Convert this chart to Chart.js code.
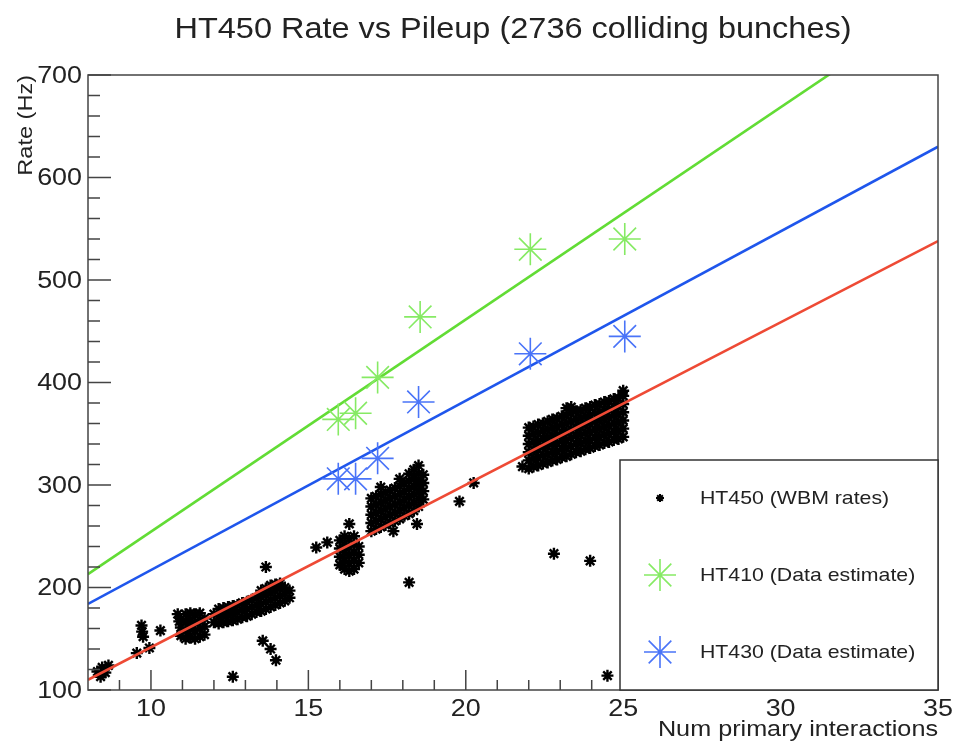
<!DOCTYPE html>
<html lang="en">
<head>
<meta charset="UTF-8">
<title>HT450 Rate vs Pileup</title>
<script src="https://cdn.jsdelivr.net/npm/chart.js@4.4.0/dist/chart.umd.min.js"></script>
<style>
    body { margin: 0; background: #fff; }
    #wrap { width: 956px; height: 745px; }
</style>
</head>
<body>
<div id="wrap"><canvas id="rateChart" width="956" height="745"></canvas></div>
<script>
    // ---- values: [pileup, rate Hz] ----
    const wbmStray = [
        [8.3,118],[8.45,122],[8.65,124],[8.4,113],[8.55,117],
        [9.55,136],[9.95,141],[9.7,163],[9.72,157],[9.75,152],[10.3,158],
        [10.85,174],[10.9,167],[12.6,113],[13.65,220],[13.55,148],[13.8,140],[13.97,129],
        [15.25,239],[15.6,244],[16.3,262],[17.7,255],[18.45,262],[18.2,205],
        [19.8,284],[20.25,302],[21.8,318],[22.8,233],[23.95,226],[24.5,114]
    ];
    const wbmFill11 = [
        [10.95,153],[10.95,161],[10.95,169],
        [11.1,150],[11.1,158],[11.1,166],[11.1,174],
        [11.25,151],[11.25,159],[11.25,167],[11.25,175],
        [11.4,150],[11.4,158],[11.4,166],[11.4,174],
        [11.55,152],[11.55,160],[11.55,168],[11.55,175],
        [11.7,154],[11.7,162],[11.7,170]
    ];
    const wbmFill13 = [
        [12.0,166],[12.0,174],
        [12.15,165],[12.15,172],[12.15,179],
        [12.3,166],[12.3,173],[12.3,180],
        [12.45,167],[12.45,174],[12.45,181],
        [12.6,168],[12.6,175],[12.6,182],
        [12.75,169],[12.75,176],[12.75,183],
        [12.9,171],[12.9,178],[12.9,185],
        [13.05,172],[13.05,179],[13.05,186],
        [13.2,174],[13.2,181],[13.2,188],
        [13.35,176],[13.35,183],[13.35,190],
        [13.5,177],[13.5,184],[13.5,191],[13.5,197],
        [13.65,179],[13.65,186],[13.65,193],[13.65,199],
        [13.8,181],[13.8,188],[13.8,195],[13.8,202],
        [13.95,183],[13.95,190],[13.95,197],[13.95,203],
        [14.1,185],[14.1,192],[14.1,199],[14.1,204],
        [14.25,187],[14.25,194],[14.25,200],
        [14.4,190],[14.4,197]
    ];
    const wbmFill16 = [
        [16.0,222],[16.0,230],[16.0,238],[16.0,246],
        [16.15,218],[16.15,226],[16.15,234],[16.15,242],[16.15,250],
        [16.3,216],[16.3,224],[16.3,232],[16.3,240],[16.3,248],
        [16.45,218],[16.45,226],[16.45,234],[16.45,242],[16.45,250],
        [16.6,224],[16.6,232],[16.6,240]
    ];
    const wbmFill18 = [
        [17.0,255],[17.0,263],[17.0,271],[17.0,279],[17.0,287],
        [17.15,257],[17.15,265],[17.15,273],[17.15,281],[17.15,289],
        [17.3,259],[17.3,267],[17.3,275],[17.3,283],[17.3,291],[17.3,298],
        [17.45,261],[17.45,269],[17.45,277],[17.45,285],[17.45,293],
        [17.6,263],[17.6,271],[17.6,279],[17.6,287],[17.6,295],
        [17.75,265],[17.75,273],[17.75,281],[17.75,289],[17.75,297],
        [17.9,267],[17.9,275],[17.9,283],[17.9,291],[17.9,299],[17.9,306],
        [18.05,270],[18.05,278],[18.05,286],[18.05,294],[18.05,302],
        [18.2,272],[18.2,280],[18.2,288],[18.2,296],[18.2,304],[18.2,311],
        [18.35,275],[18.35,283],[18.35,291],[18.35,299],[18.35,307],[18.35,315],
        [18.5,279],[18.5,287],[18.5,295],[18.5,303],[18.5,311],[18.5,319],
        [18.65,286],[18.65,294],[18.65,302],[18.65,310]
    ];
    const wbmFill23 = [
        [22.0,316],[22.0,324],[22.0,332],[22.0,340],[22.0,348],[22.0,356],
        [22.15,318],[22.15,326],[22.15,334],[22.15,342],[22.15,350],[22.15,357],
        [22.3,319],[22.3,327],[22.3,335],[22.3,343],[22.3,351],[22.3,359],
        [22.45,321],[22.45,329],[22.45,337],[22.45,345],[22.45,353],[22.45,360],
        [22.6,322],[22.6,330],[22.6,338],[22.6,346],[22.6,354],[22.6,362],
        [22.75,324],[22.75,332],[22.75,340],[22.75,348],[22.75,356],[22.75,364],
        [22.9,325],[22.9,333],[22.9,341],[22.9,349],[22.9,357],[22.9,365],
        [23.05,327],[23.05,335],[23.05,343],[23.05,351],[23.05,359],[23.05,367],
        [23.2,328],[23.2,336],[23.2,344],[23.2,352],[23.2,360],[23.2,368],[23.2,375],
        [23.35,330],[23.35,338],[23.35,346],[23.35,354],[23.35,362],[23.35,370],[23.35,376],
        [23.5,332],[23.5,340],[23.5,348],[23.5,356],[23.5,364],[23.5,372],
        [23.65,333],[23.65,341],[23.65,349],[23.65,357],[23.65,365],[23.65,373],
        [23.8,335],[23.8,343],[23.8,351],[23.8,359],[23.8,367],[23.8,375],
        [23.95,336],[23.95,344],[23.95,352],[23.95,360],[23.95,368],[23.95,376],
        [24.1,338],[24.1,346],[24.1,354],[24.1,362],[24.1,370],[24.1,378],
        [24.25,339],[24.25,347],[24.25,355],[24.25,363],[24.25,371],[24.25,379],
        [24.4,341],[24.4,349],[24.4,357],[24.4,365],[24.4,373],[24.4,381],
        [24.55,342],[24.55,350],[24.55,358],[24.55,366],[24.55,374],[24.55,382],
        [24.7,344],[24.7,352],[24.7,360],[24.7,368],[24.7,376],[24.7,384],
        [24.85,345],[24.85,353],[24.85,361],[24.85,369],[24.85,377],[24.85,385],
        [25.0,347],[25.0,355],[25.0,363],[25.0,371],[25.0,379],[25.0,387],[25.0,392]
    ];

    const ht410Pileup = [15.95, 16.5, 17.2, 18.55, 22.05, 25.05];
    const ht410Rate   = [364, 370, 405, 464, 530, 540];
    const ht430Pileup = [15.95, 16.5, 17.2, 18.5, 22.05, 25.05];
    const ht430Rate   = [306, 306, 326, 381, 428, 445];

    // straight-line fits, end points at the axis range
    const fitPileup = [8, 35];
    const fitHt410  = [213, 772];
    const fitHt430  = [184, 630];
    const fitHt450  = [110, 538];

    const xMajor = [10, 15, 20, 25, 30, 35];
    const xMinor = [9, 11, 12, 13, 14, 16, 17, 18, 19, 21, 22, 23, 24, 26, 27, 28, 29, 31, 32, 33, 34];
    const yMajor = [100, 200, 300, 400, 500, 600, 700];
    const yMinor = [120, 140, 160, 180, 220, 240, 260, 280, 320, 340, 360, 380,
                    420, 440, 460, 480, 520, 540, 560, 580, 620, 640, 660, 680];

    const GREEN_LINE = '#62dc35';
    const GREEN_MARK = '#86ea64';
    const BLUE_LINE = '#1f56ec';
    const BLUE_MARK = '#4a74f8';
    const RED_LINE = '#ee4a35';
    const FONT = '"Liberation Sans", Arial, sans-serif';

    const toXY = (xs, ys) => xs.map((x, i) => ({x: x, y: ys[i]}));
    const wbmPoints = [].concat(wbmStray, wbmFill11, wbmFill13, wbmFill16, wbmFill18, wbmFill23)
        .map(p => ({x: p[0], y: p[1]}));

    // ROOT style text is a bit wider than Arial, stretch it a little
    function rootText(ctx, txt, x, y, size, align, base) {
        ctx.save();
        ctx.font = size + 'px ' + FONT;
        ctx.fillStyle = '#222';
        ctx.textAlign = align;
        ctx.textBaseline = base || 'alphabetic';
        ctx.translate(x, y);
        ctx.scale(1.12, 1);
        ctx.fillText(txt, 0, 0);
        ctx.restore();
    }

    function asterisk(ctx, x, y, r, color, lw) {
        ctx.save();
        ctx.strokeStyle = color;
        ctx.lineWidth = lw;
        ctx.beginPath();
        for (let k = 0; k < 4; k++) {
            const a = k * Math.PI / 4;
            ctx.moveTo(x - Math.cos(a) * r, y - Math.sin(a) * r);
            ctx.lineTo(x + Math.cos(a) * r, y + Math.sin(a) * r);
        }
        ctx.stroke();
        ctx.restore();
    }

    const rootFrame = {
        id: 'rootFrame',
        afterDraw(chart) {
            const ctx = chart.ctx;
            const a = chart.chartArea;
            const xs = chart.scales.x, ys = chart.scales.y;

            ctx.save();
            ctx.strokeStyle = '#444';
            ctx.lineWidth = 1.5;
            ctx.strokeRect(a.left, a.top, a.right - a.left, a.bottom - a.top);

            ctx.beginPath();
            xMajor.forEach(v => { const px = xs.getPixelForValue(v); ctx.moveTo(px, a.bottom); ctx.lineTo(px, a.bottom - 20); });
            xMinor.forEach(v => { const px = xs.getPixelForValue(v); ctx.moveTo(px, a.bottom); ctx.lineTo(px, a.bottom - 10); });
            yMajor.forEach(v => { const py = ys.getPixelForValue(v); ctx.moveTo(a.left, py); ctx.lineTo(a.left + 23, py); });
            yMinor.forEach(v => { const py = ys.getPixelForValue(v); ctx.moveTo(a.left, py); ctx.lineTo(a.left + 12, py); });
            ctx.stroke();
            ctx.restore();

            xMajor.forEach(v => rootText(ctx, String(v), xs.getPixelForValue(v), a.bottom + 26, 24, 'center'));
            yMajor.forEach(v => rootText(ctx, String(v), a.left - 6, ys.getPixelForValue(v) + 1, 24, 'right', 'middle'));

            rootText(ctx, 'HT450 Rate vs Pileup (2736 colliding bunches)', 513, 38, 29, 'center');
            rootText(ctx, 'Num primary interactions', a.right, 736, 22.5, 'right');

            ctx.save();
            ctx.translate(32, a.top);
            ctx.rotate(-Math.PI / 2);
            rootText(ctx, 'Rate (Hz)', 0, 0, 21, 'right');
            ctx.restore();

            // legend box
            ctx.save();
            ctx.fillStyle = '#fff';
            ctx.fillRect(620, 460, a.right - 620, a.bottom - 460);
            ctx.strokeStyle = '#333';
            ctx.lineWidth = 1.5;
            ctx.strokeRect(620, 460, a.right - 620, a.bottom - 460);
            ctx.restore();
            asterisk(ctx, 660, 498, 4, '#000', 2);
            asterisk(ctx, 660, 575, 16, GREEN_MARK, 1.6);
            asterisk(ctx, 660, 652, 16, BLUE_MARK, 1.6);
            rootText(ctx, 'HT450 (WBM rates)', 700, 499, 19, 'left', 'middle');
            rootText(ctx, 'HT410 (Data estimate)', 700, 576, 19, 'left', 'middle');
            rootText(ctx, 'HT430 (Data estimate)', 700, 653, 19, 'left', 'middle');
        }
    };

    const lineSet = (ys, color) => ({
        type: 'line',
        data: toXY(fitPileup, ys),
        borderColor: color,
        borderWidth: 2.6,
        pointRadius: 0,
        fill: false,
        order: 2
    });

    new Chart(document.getElementById('rateChart'), {
        type: 'scatter',
        data: {
            datasets: [
                {
                    label: 'HT450 (WBM rates)',
                    data: wbmPoints,
                    pointStyle: 'star',
                    pointRadius: 6,
                    borderColor: '#000',
                    backgroundColor: '#000',
                    borderWidth: 2.4,
                    order: 5
                },
                lineSet(fitHt410, GREEN_LINE),
                lineSet(fitHt430, BLUE_LINE),
                lineSet(fitHt450, RED_LINE),
                {
                    label: 'HT410 (Data estimate)',
                    data: toXY(ht410Pileup, ht410Rate),
                    pointStyle: 'star',
                    pointRadius: 16,
                    borderColor: GREEN_MARK,
                    borderWidth: 1.6,
                    order: 1
                },
                {
                    label: 'HT430 (Data estimate)',
                    data: toXY(ht430Pileup, ht430Rate),
                    pointStyle: 'star',
                    pointRadius: 16,
                    borderColor: BLUE_MARK,
                    borderWidth: 1.6,
                    order: 1
                }
            ]
        },
        options: {
            responsive: false,
            animation: false,
            devicePixelRatio: 1,
            layout: { padding: { top: 75, right: 18, left: 0, bottom: 0 } },
            plugins: { legend: { display: false }, tooltip: { enabled: false } },
            scales: {
                x: {
                    type: 'linear', min: 8, max: 35,
                    grid: { display: false }, border: { display: false },
                    ticks: { display: false },
                    afterFit: s => { s.height = 55; }
                },
                y: {
                    type: 'linear', min: 100, max: 700,
                    grid: { display: false }, border: { display: false },
                    ticks: { display: false },
                    afterFit: s => { s.width = 88; }
                }
            }
        },
        plugins: [rootFrame]
    });
</script>
</body>
</html>
